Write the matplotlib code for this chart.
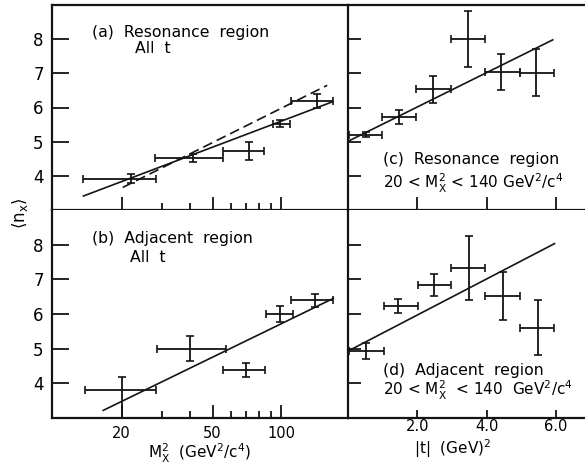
import numpy as np
import matplotlib; matplotlib.use("Agg")
import matplotlib.pyplot as plt
from matplotlib.ticker import NullFormatter

plt.rcParams["font.family"] = "DejaVu Sans"
plt.rcParams["mathtext.default"] = "regular"

# (a) resonance region, all t  -- M_x^2 bins
a_x = [22, 41, 72, 99, 143]
a_xlo = [13.6, 27.9, 55.8, 92, 110]
a_xhi = [28.2, 55.8, 84, 109, 168]
a_y = [3.91, 4.52, 4.73, 5.53, 6.20]
a_yerr = [0.13, 0.12, 0.26, 0.10, 0.20]
a_fit_x = [13.6, 168]; a_fit_y = [3.41, 6.17]
a_dash_x = [20.2, 159]; a_dash_y = [3.66, 6.65]

# (b) adjacent region, all t
b_x = [20, 40, 70, 99, 141]
b_xlo = [13.8, 28.5, 55.8, 86, 110]
b_xhi = [28.2, 57, 85, 112, 169]
b_y = [3.82, 5.00, 4.38, 6.00, 6.39]
b_yerr_lo = [0.85, 0.36, 0.21, 0.23, 0.20]
b_yerr_hi = [0.35, 0.36, 0.21, 0.23, 0.20]
b_fit_x = [16.6, 169]; b_fit_y = [3.22, 6.45]

# (c) resonance region vs |t|
c_x = [0.51, 1.46, 2.46, 3.46, 4.43, 5.44]
c_xlo = [0.03, 0.99, 1.96, 2.96, 3.94, 4.96]
c_xhi = [0.99, 1.96, 2.96, 3.94, 4.96, 5.95]
c_y = [5.20, 5.73, 6.53, 8.00, 7.04, 7.02]
c_yerr = [0.07, 0.21, 0.40, 0.81, 0.52, 0.69]
c_fit_x = [0.0, 5.91]; c_fit_y = [5.01, 7.98]

# (d) adjacent region vs |t|
d_x = [0.51, 1.45, 2.49, 3.49, 4.47, 5.49]
d_xlo = [0.03, 1.04, 2.03, 2.96, 3.96, 4.96]
d_xhi = [1.04, 2.03, 2.96, 3.96, 4.96, 5.95]
d_y = [4.94, 6.23, 6.84, 7.32, 6.53, 5.61]
d_yerr = [0.23, 0.19, 0.31, 0.92, 0.69, 0.80]
d_fit_x = [0.0, 5.96]; d_fit_y = [4.93, 8.03]

K = "#141414"
W, Hh = 585, 468
L, M, R = 52 / W, 348 / W, 1.0
T, C, B = 1 - 5 / Hh, 1 - 210 / Hh, 1 - 418 / Hh

fig = plt.figure(figsize=(5.85, 4.68), dpi=100)
ax_a = fig.add_axes([L, C, M - L, T - C])
ax_b = fig.add_axes([L, B, M - L, C - B])
ax_c = fig.add_axes([M, C, R - M, T - C])
ax_d = fig.add_axes([M, B, R - M, C - B])


def draw(ax, x, xlo, xhi, y, ylo, yhi):
    x = np.array(x); y = np.array(y)
    xerr = [x - np.array(xlo), np.array(xhi) - x]
    ax.errorbar(x, y, xerr=xerr, yerr=[ylo, yhi], fmt="none", ecolor=K,
                elinewidth=1.3, capsize=3, capthick=1.2)


draw(ax_a, a_x, a_xlo, a_xhi, a_y, a_yerr, a_yerr)
ax_a.plot(a_fit_x, a_fit_y, color=K, lw=1.2)
ax_a.plot(a_dash_x, a_dash_y, color=K, lw=1.2, dashes=[6, 3])
draw(ax_b, b_x, b_xlo, b_xhi, b_y, b_yerr_lo, b_yerr_hi)
ax_b.plot(b_fit_x, b_fit_y, color=K, lw=1.2)
draw(ax_c, c_x, c_xlo, c_xhi, c_y, c_yerr, c_yerr)
ax_c.plot(c_fit_x, c_fit_y, color=K, lw=1.2)
draw(ax_d, d_x, d_xlo, d_xhi, d_y, d_yerr, d_yerr)
ax_d.plot(d_fit_x, d_fit_y, color=K, lw=1.2)

for ax in (ax_a, ax_b, ax_c, ax_d):
    ax.set_ylim(3.0, 9.0)
    ax.set_yticks([4, 5, 6, 7, 8])
    ax.spines["right"].set_visible(False)
    for s in ("left", "bottom", "top"):
        ax.spines[s].set_linewidth(1.6); ax.spines[s].set_color(K)
    ax.tick_params(which="both", direction="in", color=K, width=1.3)
for ax in (ax_b, ax_d):
    ax.spines["top"].set_visible(False)

for ax in (ax_a, ax_b):
    ax.set_xscale("log")
    ax.set_xlim(9.9, 196)
    ax.set_xticks([20, 50, 100]); ax.set_xticklabels(["20", "50", "100"])
    ax.set_xticks([30, 40, 60, 70, 80, 90], minor=True)
    ax.xaxis.set_minor_formatter(NullFormatter())
    ax.tick_params(axis="y", length=12, labelsize=12, pad=6)
    ax.tick_params(axis="x", which="major", length=9.5, labelsize=10.5, pad=6)
    ax.tick_params(axis="x", which="minor", length=5)
ax_a.tick_params(axis="x", which="both", labelbottom=False)

for ax in (ax_c, ax_d):
    ax.set_xlim(0, 6.84)
    ax.set_xticks([2, 4, 6]); ax.set_xticklabels(["2.0", "4.0", "6.0"])
    ax.tick_params(axis="y", length=9.5, labelleft=False)
    ax.tick_params(axis="x", length=9.5, labelsize=10.5, pad=1)
ax_c.tick_params(axis="x", labelbottom=False)
ax_d.tick_params(axis="x", length=5.5)

fs = 11.3
ax_a.text(0.135, 0.868, "(a)  Resonance  region", transform=ax_a.transAxes, fontsize=fs, va="center")
ax_a.text(0.28, 0.79, "All  t", transform=ax_a.transAxes, fontsize=fs, va="center")
ax_b.text(0.135, 0.865, "(b)  Adjacent  region", transform=ax_b.transAxes, fontsize=fs, va="center")
ax_b.text(0.264, 0.77, "All  t", transform=ax_b.transAxes, fontsize=fs, va="center")
ax_c.text(0.148, 0.244, "(c)  Resonance  region", transform=ax_c.transAxes, fontsize=fs, va="center")
ax_c.text(0.148, 0.132, r"20 < M$_X^2$ < 140 GeV$^2$/c$^4$", transform=ax_c.transAxes, fontsize=11, va="center")
ax_d.text(0.148, 0.23, "(d)  Adjacent  region", transform=ax_d.transAxes, fontsize=fs, va="center")
ax_d.text(0.148, 0.135, r"20 < M$_X^2$  < 140  GeV$^2$/c$^4$", transform=ax_d.transAxes, fontsize=11, va="center")

fig.text(20 / W, 1 - 213 / Hh, r"$\langle n_x \rangle$", rotation=90, ha="center", va="center", fontsize=12)
fig.text(200 / W, 1 - 453 / Hh, r"M$_X^2$  (GeV$^2$/c$^4$)", ha="center", va="center", fontsize=11)
fig.text(453 / W, 1 - 449 / Hh, r"|t|  (GeV)$^2$", ha="center", va="center", fontsize=11)

fig.savefig("out.png", dpi=100)
